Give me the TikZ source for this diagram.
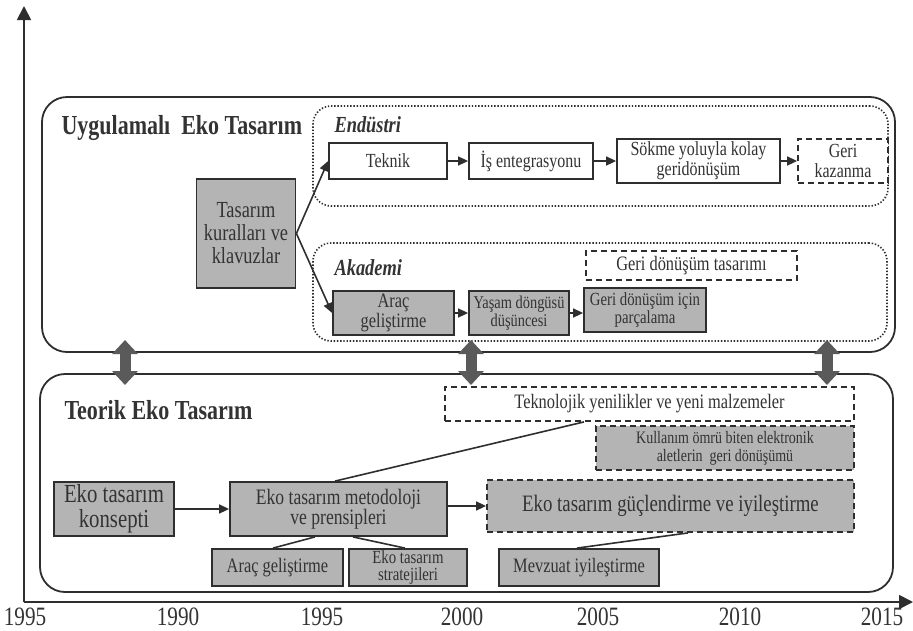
\documentclass[tikz,border=0pt]{standalone}
\usepackage{fontspec}
\setmainfont{Liberation Serif}[FakeStretch=0.8]
\usetikzlibrary{arrows.meta,calc}
\definecolor{linec}{HTML}{2E2E2E}
\definecolor{txt}{HTML}{333333}
\definecolor{boxgray}{HTML}{B4B4B4}
\definecolor{arrg}{HTML}{5A5A5A}
\newcommand{\fs}[2]{\fontsize{#1}{#2}\selectfont}
\begin{document}
\begin{tikzpicture}[x=1pt,y=-1pt,
  every node/.style={text=txt},
  box/.style={draw=linec, line width=1.8pt, fill=white, align=center, inner sep=0pt, font=\fs{20}{20}},
  gbox/.style={box, fill=boxgray},
  dbox/.style={box, dash pattern=on 6pt off 4pt},
  gdbox/.style={gbox, dash pattern=on 6pt off 4pt},
  frame/.style={draw=linec, line width=1.8pt, rounded corners=25pt, inner sep=0pt},
  dotreg/.style={draw=linec, line width=1.6pt, dash pattern=on 1.4pt off 1.8pt, rounded corners=18pt, inner sep=0pt},
  conn/.style={draw=linec, line width=1.6pt},
  arr/.style={conn, -{Triangle[length=10pt,width=9pt]}},
  dbl/.style={draw=arrg, line width=11pt, {Triangle[width=25pt,length=14pt]}-{Triangle[width=25pt,length=14pt]}},
  axis/.style={draw=linec, line width=1.8pt, -{Triangle[length=14pt,width=14pt]}},
  year/.style={font=\fs{26.5}{28}}
]
\useasboundingbox (0,0) rectangle (913,630);

% axes
\coordinate (o) at (24,602);
\coordinate (ytop) at (24,6);
\coordinate (xend) at (913,602);
\draw[axis] (o) -- (ytop);
\draw[axis] (o) -- (xend);
\node[year] (y1) at (25,617) {1995};
\node[year] (y2) at (178,617) {1990};
\node[year] (y3) at (322,617) {1995};
\node[year] (y4) at (462,617) {2000};
\node[year] (y5) at (598,617) {2005};
\node[year] (y6) at (740,617) {2010};
\node[year] (y7) at (882,617) {2015};

% big frames
\node[frame, minimum width=853pt, minimum height=255pt] (app) at (468.5,224.5) {};
\node[frame, minimum width=853pt, minimum height=218pt] (teo) at (466.5,483) {};

\node[anchor=west, font=\bfseries\fs{27.5}{30}] (appt) at (58,128) {Uygulamalı\ \ Eko Tasarım};
\node[anchor=west, font=\bfseries\fs{27.5}{30}] (teot) at (61,410) {Teorik Eko Tasarım};

% dotted regions
\node[dotreg, minimum width=575pt, minimum height=100pt] (endr) at (600.5,156) {};
\node[dotreg, minimum width=574pt, minimum height=98pt] (akar) at (600,292) {};
\node[anchor=west, font=\bfseries\itshape\fs{23}{25}] (endl) at (331,125) {Endüstri};
\node[anchor=west, font=\bfseries\itshape\fs{23}{25}] (akal) at (331,268) {Akademi};

% upper nodes
\node[gbox, minimum width=99pt, minimum height=109pt, font=\fs{23}{23}] (kur) at (246,233.5) {Tasarım\\kuralları ve\\klavuzlar};
\node[box, minimum width=118pt, minimum height=36pt] (tek) at (388,161) {Teknik};
\node[box, minimum width=124pt, minimum height=36pt] (is) at (531,161) {İş entegrasyonu};
\node[box, minimum width=163pt, minimum height=44pt, font=\fs{20}{20}] (sok) at (698.5,161) {Sökme yoluyla kolay\\geridönüşüm};
\node[dbox, minimum width=90pt, minimum height=44pt, font=\fs{20}{20}] (gk) at (843,161) {Geri\\kazanma};
\node[dbox, minimum width=211pt, minimum height=29pt, font=\fs{20.5}{20}] (gdt) at (691.5,265.5) {Geri dönüşüm tasarımı};
\node[gbox, minimum width=121pt, minimum height=44pt, font=\fs{20.5}{20}] (arac) at (393.5,313) {Araç\\geliştirme};
\node[gbox, minimum width=100pt, minimum height=44pt, font=\fs{18}{17.5}] (yas) at (519,313) {Yaşam döngüsü\\düşüncesi};
\node[gbox, minimum width=122pt, minimum height=44pt, font=\fs{18.5}{17.5}] (par) at (645,310) {Geri dönüşüm için\\parçalama};

\draw[arr] (kur.east) -- (tek.west);
\draw[arr] (kur.east) -- (arac.west);
\draw[arr] (tek) -- (is);
\draw[arr] (is) -- (sok);
\draw[arr] (sok) -- (gk);
\draw[arr] (arac) -- (yas);
\draw[arr] (yas.east) -- (yas.east -| par.west);

% lower nodes
\node[dbox, minimum width=409pt, minimum height=34pt, font=\fs{20.5}{20}] (tyn) at (649.5,404) {Teknolojik yenilikler ve yeni malzemeler};
\node[gdbox, minimum width=258pt, minimum height=44pt, font=\fs{17.5}{18}] (kul) at (725,448) {Kullanım ömrü biten elektronik\\aletlerin\ \ geri dönüşümü};
\node[gdbox, minimum width=367pt, minimum height=52pt, font=\fs{23.5}{24}] (guc) at (670.5,506) {Eko tasarım güçlendirme ve iyileştirme};
\node[gbox, minimum width=160pt, minimum height=37pt, font=\fs{20.5}{20}] (mev) at (579,567.5) {Mevzuat iyileştirme};
\node[gbox, minimum width=120pt, minimum height=54pt, font=\fs{26}{25}] (kon) at (114,509) {Eko tasarım\\konsepti};
\node[gbox, minimum width=217pt, minimum height=54pt, font=\fs{22}{20}] (met) at (338.5,509) {Eko tasarım metodoloji\\ve prensipleri};
\node[gbox, minimum width=131pt, minimum height=37pt, font=\fs{20.5}{20}] (arac2) at (277.5,567.5) {Araç geliştirme};
\node[gbox, minimum width=118pt, minimum height=37pt, font=\fs{18.5}{17}] (str) at (408,567.5) {Eko tasarım\\stratejileri};

\draw[arr] (kon) -- (met);
\draw[arr] (met.east |- guc) -- (guc.west);
\draw[conn] ([xshift=-3.5pt]met.north) -- ([xshift=-65.5pt]tyn.south);
\draw[conn] ([xshift=-23.5pt]met.south) -- ([xshift=-4.5pt]arac2.north);
\draw[conn] ([xshift=14.5pt]met.south) -- ([xshift=-3pt]str.north);
\draw[conn] ([xshift=-2pt]mev.north) -- ([xshift=17.5pt]guc.south);

% double arrows between the two levels
\coordinate (d1t) at (125,340); \coordinate (d1b) at (125,385);
\coordinate (d2t) at (471,340); \coordinate (d2b) at (471,385);
\coordinate (d3t) at (827,340); \coordinate (d3b) at (827,385);
\draw[dbl] (d1t) -- (d1b);
\draw[dbl] (d2t) -- (d2b);
\draw[dbl] (d3t) -- (d3b);
\end{tikzpicture}
\end{document}
